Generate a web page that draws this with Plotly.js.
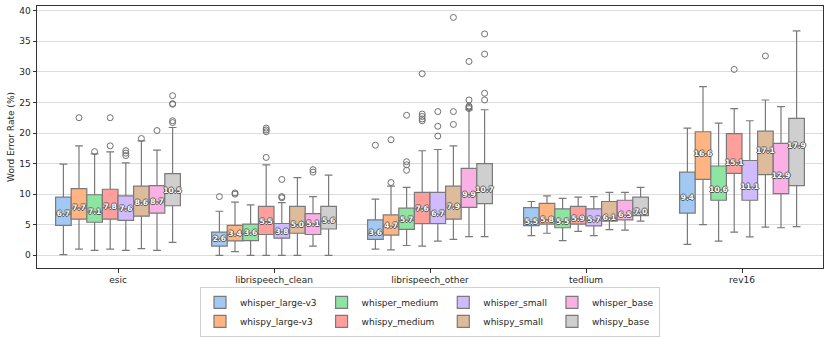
<!DOCTYPE html>
<html>
<head>
<meta charset="utf-8">
<script src="https://cdn.plot.ly/plotly-3.0.1.min.js"></script>
<style>
  body { margin: 0; background: #fff; }
  #plotArea { width: 830px; height: 339px; }
</style>
</head>
<body>
<div id="plotArea"></div>
<script>
// datasets on the x axis, one box per model in each
var datasets = ["esic", "librispeech_clean", "librispeech_other", "tedlium", "rev16"];
var models = ["whisper_large-v3", "whispy_large-v3", "whisper_medium", "whispy_medium",
              "whisper_small", "whispy_small", "whisper_base", "whispy_base"];
// legend columns (large-v3 | medium | small | base)
var legendCols = ["large-v3", "large-v3", "medium", "medium", "small", "small", "base", "base"];
var colors = ["#a1c9f4", "#ffb482", "#8de5a1", "#ff9f9b", "#d0bbff", "#debb9b", "#fab0e4", "#cfcfcf"];

// rows = models, columns = datasets
var medians = [
    [6.7, 2.6, 3.6, 5.5, 9.4],
    [7.7, 3.4, 4.7, 5.8, 16.6],
    [7.1, 3.6, 5.7, 5.5, 10.6],
    [7.8, 5.5, 7.6, 5.9, 15.1],
    [7.6, 3.8, 6.7, 5.7, 11.1],
    [8.6, 5.0, 7.9, 6.1, 17.1],
    [8.7, 5.1, 9.9, 6.5, 12.9],
    [10.5, 5.6, 10.7, 7.0, 17.9]
];
var q1 = [
    [4.9, 1.5, 2.6, 4.85, 6.9],
    [5.9, 2.35, 3.3, 5.1, 12.4],
    [5.4, 2.4, 4.25, 4.5, 9.0],
    [5.9, 3.4, 5.2, 5.1, 13.4],
    [5.7, 2.8, 5.2, 4.8, 9.0],
    [6.4, 3.6, 5.9, 5.6, 13.2],
    [6.9, 3.4, 7.85, 5.8, 10.1],
    [8.1, 4.3, 8.45, 6.5, 11.4]
];
var q3 = [
    [9.5, 3.8, 5.8, 7.8, 13.6],
    [10.9, 4.9, 6.6, 8.5, 20.2],
    [9.9, 5.1, 7.7, 7.6, 14.6],
    [10.8, 8.0, 10.3, 8.0, 19.9],
    [9.7, 5.2, 10.3, 7.6, 15.5],
    [11.3, 8.0, 11.3, 8.8, 20.3],
    [11.4, 6.8, 14.2, 9.0, 18.3],
    [13.35, 8.0, 15.0, 9.5, 22.4]
];
var whiskLow = [
    [0.1, 0.0, 1.0, 3.2, 1.8],
    [1.0, 0.6, 0.9, 3.6, 5.0],
    [0.8, 0.0, 1.6, 2.4, 2.3],
    [1.0, 0.0, 1.5, 3.9, 3.8],
    [0.8, 0.0, 2.3, 3.2, 3.0],
    [1.1, 0.0, 2.6, 4.2, 4.6],
    [0.8, 1.5, 3.05, 4.1, 4.5],
    [2.1, 0.0, 3.05, 5.6, 4.7]
];
var whiskHigh = [
    [14.9, 7.2, 9.2, 8.8, 20.8],
    [17.9, 8.7, 11.3, 9.7, 27.6],
    [16.6, 8.25, 11.1, 9.3, 21.6],
    [16.9, 14.8, 17.1, 9.5, 24.0],
    [15.1, 8.6, 17.3, 9.6, 22.0],
    [18.7, 12.7, 17.9, 10.3, 25.4],
    [17.2, 9.6, 23.8, 10.3, 24.3],
    [20.9, 13.1, 23.8, 11.1, 36.7]
];
var outliers = [
    [[], [9.6], [18.0], [], []],
    [[22.5], [10.0, 10.2], [11.9, 18.9], [], []],
    [[16.95], [], [13.9, 14.8, 15.3, 22.9], [], []],
    [[17.9, 22.5], [16.0, 20.2, 20.5, 20.8], [22.0, 22.3, 22.7, 23.1, 29.7], [], [30.4]],
    [[16.3, 16.7, 17.1], [9.4, 9.6, 12.4], [19.5, 21.1, 23.5], [], []],
    [[19.1], [], [21.4, 23.5, 38.9], [], [32.6]],
    [[20.4], [13.6, 14.0], [24.0, 24.2, 24.4, 25.4, 31.7], [], []],
    [[21.7, 22.0, 24.7, 24.8, 26.1], [], [25.4, 26.5, 32.9, 36.2], [], []]
];

var data = [];
models.forEach(function(name, m) {
    data.push({
        type: "box",
        name: name,
        orientation: "v",
        x: datasets,
        // empty sample lists upset plotly, a null placeholder is skipped
        y: outliers[m].map(function(pts) { return pts.length ? pts : [null]; }),
        q1: q1[m],
        median: medians[m],
        q3: q3[m],
        lowerfence: whiskLow[m],
        upperfence: whiskHigh[m],
        boxpoints: "outliers",
        jitter: 0,
        pointpos: 0,
        whiskerwidth: 0.5,
        fillcolor: colors[m],
        line: {color: "#7a7a7a", width: 1.2},
        marker: {symbol: "circle-open", size: 6, color: "#707070", line: {width: 1}},
        legendgroup: legendCols[m],
        hoverinfo: "skip"
    });
});

// median labels
models.forEach(function(name, m) {
    data.push({
        type: "scatter",
        mode: "text",
        x: datasets,
        y: medians[m],
        text: medians[m].map(function(v) { return v.toFixed(1); }),
        textposition: "middle center",
        textfont: {family: "DejaVu Sans", size: 7.5, color: "#ffffff", weight: "bold",
                   shadow: "-1px 0 0 #555, 1px 0 0 #555, 0 -1px 0 #555, 0 1px 0 #555"},
        offsetgroup: name,
        alignmentgroup: "med",
        cliponaxis: false,
        showlegend: false,
        hoverinfo: "skip"
    });
});

var layout = {
    width: 830,
    height: 339,
    margin: {l: 37, r: 7, t: 6, b: 71},
    paper_bgcolor: "#ffffff",
    plot_bgcolor: "#ffffff",
    font: {family: "DejaVu Sans", size: 9, color: "#262626"},
    boxmode: "group",
    boxgap: 0.2,
    boxgroupgap: 0,
    scattermode: "group",
    scattergap: 0.2,
    showlegend: true,
    xaxis: {
        type: "category",
        showline: true, mirror: true, linecolor: "#333", linewidth: 1,
        ticks: "outside", ticklen: 3.5, tickcolor: "#333",
        showgrid: false
    },
    yaxis: {
        title: {text: "Word Error Rate (%)", font: {size: 9}, standoff: 3},
        range: [-2.08, 40.77],
        tick0: 0, dtick: 5,
        showline: true, mirror: true, linecolor: "#333", linewidth: 1,
        ticks: "outside", ticklen: 3.5, tickcolor: "#333",
        showgrid: true, gridcolor: "#dcdcdc", gridwidth: 1,
        zeroline: false
    },
    legend: {
        orientation: "h",
        traceorder: "grouped",
        xref: "paper", x: 0.5, xanchor: "center",
        yref: "container", y: 0.006, yanchor: "bottom",
        bordercolor: "#d0d0d0", borderwidth: 1,
        font: {size: 9},
        tracegroupgap: 8
    }
};

Plotly.newPlot("plotArea", data, layout, {displayModeBar: false});
</script>
</body>
</html>
